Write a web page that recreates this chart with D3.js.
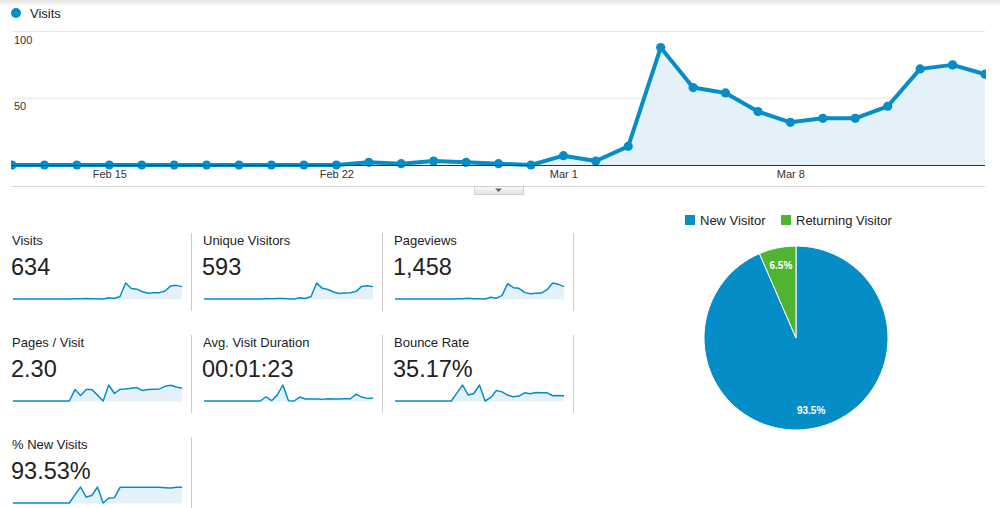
<!DOCTYPE html>
<html>
<head>
<meta charset="utf-8">
<script src="https://cdn.jsdelivr.net/npm/d3@7"></script>
<style>
body { margin: 0; background: #fff; }
svg { display: block; font-family: Arial, "Liberation Sans", Helvetica, sans-serif; }
</style>
</head>
<body>
<script>
// DAYS (Feb 12 - Mar 14)
const days = ["2013-02-12","2013-02-13","2013-02-14","2013-02-15","2013-02-16","2013-02-17","2013-02-18",
  "2013-02-19","2013-02-20","2013-02-21","2013-02-22","2013-02-23","2013-02-24","2013-02-25","2013-02-26",
  "2013-02-27","2013-02-28","2013-03-01","2013-03-02","2013-03-03","2013-03-04","2013-03-05","2013-03-06",
  "2013-03-07","2013-03-08","2013-03-09","2013-03-10","2013-03-11","2013-03-12","2013-03-13","2013-03-14"];

// DAILY SERIES
const visits         = [0,0,0,0,0,0,0,0,0,0,0, 2,1,3,2,1,0,7,3,14,88,58,54,40,32,35,35,44,72,75,68];
const uniqueVisitors = [0,0,0,0,0,0,0,0,0,0,0, 2,1,3,2,1,0,6,3,13,84,56,50,37,29,32,33,40,66,70,65];
const pageviews      = [0,0,0,0,0,0,0,0,0,0,0, 4,2,8,4,3,0,20,8,44,185,137,129,80,64,68,72,112,193,177,149];
const pagesPerVisit  = [0,0,0,0,0,0,0,0,0,0,0, 2.14,1.04,2.14,2.14,1.1,0,3.0,1.41,2.2,2.27,2.39,2.51,1.96,2.14,2.2,2.27,2.75,2.94,2.63,2.39];
const avgDuration    = [0,0,0,0,0,0,0,0,0,0,0, 154,12,213,580,12,0,142,71,71,71,59,83,71,71,83,83,249,142,95,107];
const bounceRate     = [0,0,0,0,0,0,0,0,0,0,0, 51,100,37,47,100,0,22,65,57,37,27,31,51,45,53,51,51,33,35,33];
const newVisitsPct   = [0,0,0,0,0,0,0,0,0,0,0, 51,100,37,47,100,0,31,33,98,98,98,98,98,98,98,98,96,94,98,98];

// SCORECARDS
const metricNames  = ["Visits","Unique Visitors","Pageviews","Pages / Visit","Avg. Visit Duration","Bounce Rate","% New Visits"];
const metricTotals = ["634","593","1,458","2.30","00:01:23","35.17%","93.53%"];
const metricSeries = [visits, uniqueVisitors, pageviews, pagesPerVisit, avgDuration, bounceRate, newVisitsPct];

// PIE
const visitorTypes  = ["New Visitor","Returning Visitor"];
const visitorShares = [93.5, 6.5];
const visitorColors = ["#058dc7","#50b432"];

const yTicks = [50, 100];

const blue = "#058dc7";
const areaFill = "#e5f1f8";
const parse = d3.timeParse("%Y-%m-%d");
const dates = days.map(parse);

const svg = d3.select("body").append("svg")
  .attr("width", 1000)
  .attr("height", 508);

const defs = svg.append("defs");

// top shadow
const shade = defs.append("linearGradient").attr("id","shade")
  .attr("x1",0).attr("y1",0).attr("x2",0).attr("y2",1);
shade.append("stop").attr("offset","0%").attr("stop-color","#e4e4e4");
shade.append("stop").attr("offset","100%").attr("stop-color","#ffffff");
svg.append("rect").attr("x",0).attr("y",0).attr("width",1000).attr("height",7).attr("fill","url(#shade)");

// LEGEND
svg.append("circle").attr("cx",16).attr("cy",13).attr("r",5).attr("fill",blue);
svg.append("text").attr("x",30).attr("y",18).attr("font-size",13).attr("fill","#222").text("Visits");

// MAIN CHART
const X = d3.scaleTime().domain(d3.extent(dates)).range([12, 985]);
const Y = d3.scaleLinear().domain([0, 100]).range([165, 31.5]);

defs.append("clipPath").attr("id","clip")
  .append("rect").attr("x",11).attr("y",0).attr("width",975).attr("height",170);

// gridlines
svg.append("g").selectAll("line").data(yTicks).enter().append("line")
  .attr("x1",12).attr("x2",985)
  .attr("y1",d => Y(d)).attr("y2",d => Y(d))
  .attr("stroke","#e6e6e6").attr("stroke-width",1);

const plot = svg.append("g").attr("clip-path","url(#clip)");
const series = dates.map((d,i) => ({date: d, v: visits[i]}));

plot.append("path").datum(series)
  .attr("fill", areaFill)
  .attr("d", d3.area().x(d => X(d.date)).y0(Y(0)).y1(d => Y(d.v)));

// baseline
svg.append("line").attr("x1",12).attr("x2",985).attr("y1",165.5).attr("y2",165.5)
  .attr("stroke","#333").attr("stroke-width",1);

plot.append("path").datum(series)
  .attr("fill","none").attr("stroke",blue).attr("stroke-width",4)
  .attr("stroke-linejoin","round")
  .attr("d", d3.line().x(d => X(d.date)).y(d => Y(d.v)));

plot.selectAll("circle").data(series).enter().append("circle")
  .attr("cx", d => X(d.date)).attr("cy", d => Y(d.v)).attr("r",4.6).attr("fill",blue);

// y labels
svg.append("g").selectAll("text").data(yTicks).enter().append("text")
  .attr("x",14).attr("y",d => Y(d) + 12)
  .attr("font-size",11).attr("fill","#333").text(d => d);

// x axis labels
const xAxis = d3.axisBottom(X).tickValues(d3.timeFriday.range(dates[0], dates[dates.length-1]))
  .tickFormat(d3.timeFormat("%b %-d")).tickSize(0).tickPadding(0);
const xg = svg.append("g").attr("transform","translate(0,170)").call(xAxis);
xg.select(".domain").remove();
xg.selectAll("text").attr("font-size",11).attr("fill","#333").attr("font-family","Arial, 'Liberation Sans', sans-serif");

// bottom divider with tab
svg.append("line").attr("x1",12).attr("x2",985).attr("y1",186.5).attr("y2",186.5).attr("stroke","#d4d4d4");
const tabGrad = defs.append("linearGradient").attr("id","tab").attr("x1",0).attr("y1",0).attr("x2",0).attr("y2",1);
tabGrad.append("stop").attr("offset","0%").attr("stop-color","#fafafa");
tabGrad.append("stop").attr("offset","100%").attr("stop-color","#e2e2e2");
svg.append("rect").attr("x",474.5).attr("y",186.5).attr("width",49).attr("height",8)
  .attr("fill","url(#tab)").attr("stroke","#cfcfcf");
svg.append("path").attr("d","M495,188.5 L502,188.5 L498.5,192 Z").attr("fill","#666");

// SCORECARDS
metricNames.forEach((name, k) => {
  const col = k < 3 ? k : (k < 6 ? k - 3 : 0);
  const row = k < 3 ? 0 : (k < 6 ? 1 : 2);
  const x0 = 12 + col * 191;
  const base = 245 + row * 102;
  const g = svg.append("g");

  g.append("text").attr("x",x0).attr("y",base).attr("font-size",13).attr("fill","#222").text(name);
  g.append("text").attr("x",x0 - 1).attr("y",base + 30).attr("font-size",23.5).attr("fill","#222").text(metricTotals[k]);

  const data = metricSeries[k];
  const sx = d3.scaleLinear().domain([0, data.length - 1]).range([x0 + 1, x0 + 170]);
  const sy = d3.scaleLinear().domain([0, d3.max(data)]).range([base + 54, base + 38]);

  g.append("path").datum(data).attr("fill",areaFill)
    .attr("d", d3.area().x((d,i) => sx(i)).y0(base + 54.5).y1(d => sy(d)));
  g.append("path").datum(data).attr("fill","none").attr("stroke",blue).attr("stroke-width",1.5)
    .attr("stroke-linejoin","round")
    .attr("d", d3.line().x((d,i) => sx(i)).y(d => sy(d)));

  g.append("line").attr("x1",x0 + 179.5).attr("x2",x0 + 179.5)
    .attr("y1",base - 12).attr("y2",base + 66)
    .attr("stroke","#cccccc").attr("stroke-width",1);
});

// PIE LEGEND
const lg = svg.append("g");
const legendX = [685, 781];
visitorTypes.forEach((t, i) => {
  lg.append("rect").attr("x",legendX[i]).attr("y",215).attr("width",10).attr("height",10).attr("fill",visitorColors[i]);
  lg.append("text").attr("x",legendX[i] + 15).attr("y",225).attr("font-size",13).attr("fill","#222").text(t);
});

// PIE
const cx = 796, cy = 338, R = 92;
const pie = d3.pie().sort(null).value(d => d)(visitorShares);
const arc = d3.arc().innerRadius(0).outerRadius(R);
const labelArc = d3.arc().innerRadius(R * 0.81).outerRadius(R * 0.81);
const pg = svg.append("g").attr("transform",`translate(${cx},${cy})`);
pg.selectAll("path").data(pie).enter().append("path")
  .attr("d", arc)
  .attr("fill", (d,i) => visitorColors[i])
  .attr("stroke","#fff").attr("stroke-width",1);
pg.selectAll("text").data(pie).enter().append("text")
  .attr("transform", d => `translate(${labelArc.centroid(d)})`)
  .attr("text-anchor","middle").attr("dy","0.35em")
  .attr("font-size",10).attr("font-weight","bold").attr("fill","#fff")
  .text(d => d.data + "%");
</script>
</body>
</html>
